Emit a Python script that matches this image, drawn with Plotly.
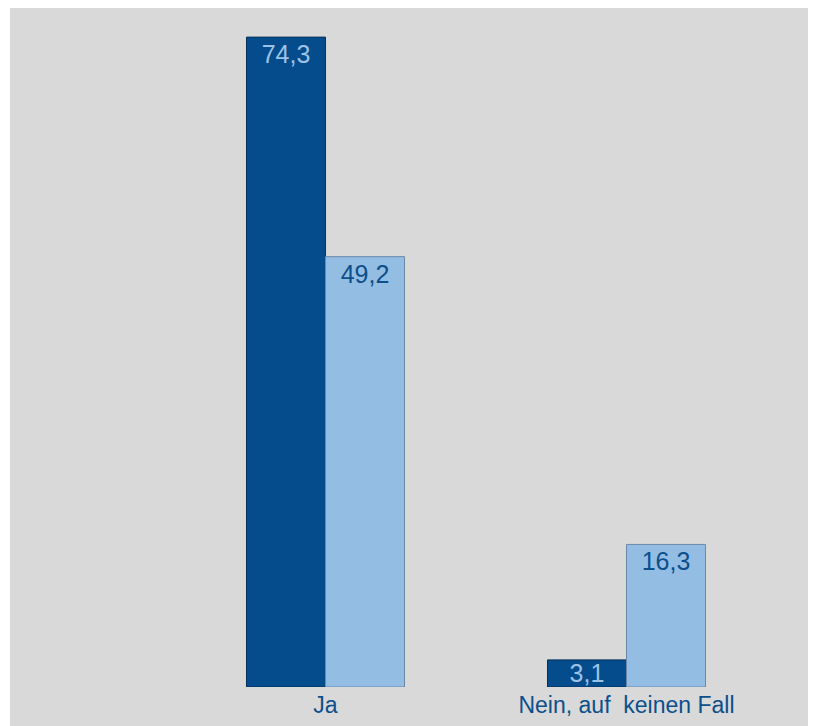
import plotly.graph_objects as go

categories = ["Ja", "Nein, auf\u00a0 keinen Fall"]
series_a = [74.3, 3.1]
series_b = [49.2, 16.3]
labels_a = ["74,3", "3,1"]
labels_b = ["49,2", "16,3"]

FONT = "Liberation Sans, Arial"
DARK = "#044c8c"
LIGHT = "#94bde4"

fig = go.Figure()
# series A, split per category only so each label can be anchored like the original
for i, anchor in enumerate(["end", "middle"]):
    fig.add_trace(go.Bar(
        x=[categories[i]], y=[series_a[i]], text=[labels_a[i]],
        offsetgroup="a",
        textposition="inside", insidetextanchor=anchor,
        textfont=dict(family=FONT, size=25, color="#9cc3e6"),
        marker=dict(color=DARK, line=dict(color="#06315c", width=1)),
        showlegend=False, hoverinfo="skip",
    ))
fig.add_trace(go.Bar(
    x=categories, y=series_b, text=labels_b,
    offsetgroup="b",
    textposition="inside", insidetextanchor="end",
    textfont=dict(family=FONT, size=25, color="#0c4f8b"),
    marker=dict(color=LIGHT, line=dict(color="#6a89a8", width=1)),
    showlegend=False, hoverinfo="skip",
))

fig.update_layout(
    width=808, height=718,
    margin=dict(l=167, r=39, t=2, b=39),
    barmode="group", bargap=0.475, bargroupgap=0,
    paper_bgcolor="#d9d9d9", plot_bgcolor="#d9d9d9",
    uniformtext=dict(minsize=25, mode="show"),
    xaxis=dict(showgrid=False, zeroline=False, showline=False, ticks="",
               tickfont=dict(family=FONT, size=23, color="#0c4f8b"),
               ticklabelstandoff=2,
               range=[-0.5, 1.5], fixedrange=True),
    yaxis=dict(visible=False, range=[0, 77.4], fixedrange=True),
    shapes=[
        dict(type="rect", xref="paper", yref="paper", x0=-0.3, x1=-0.2742,
             y0=-0.1, y1=1.05, fillcolor="white", line=dict(width=0), layer="below"),
    ],
)

fig.write_html("out.html")
